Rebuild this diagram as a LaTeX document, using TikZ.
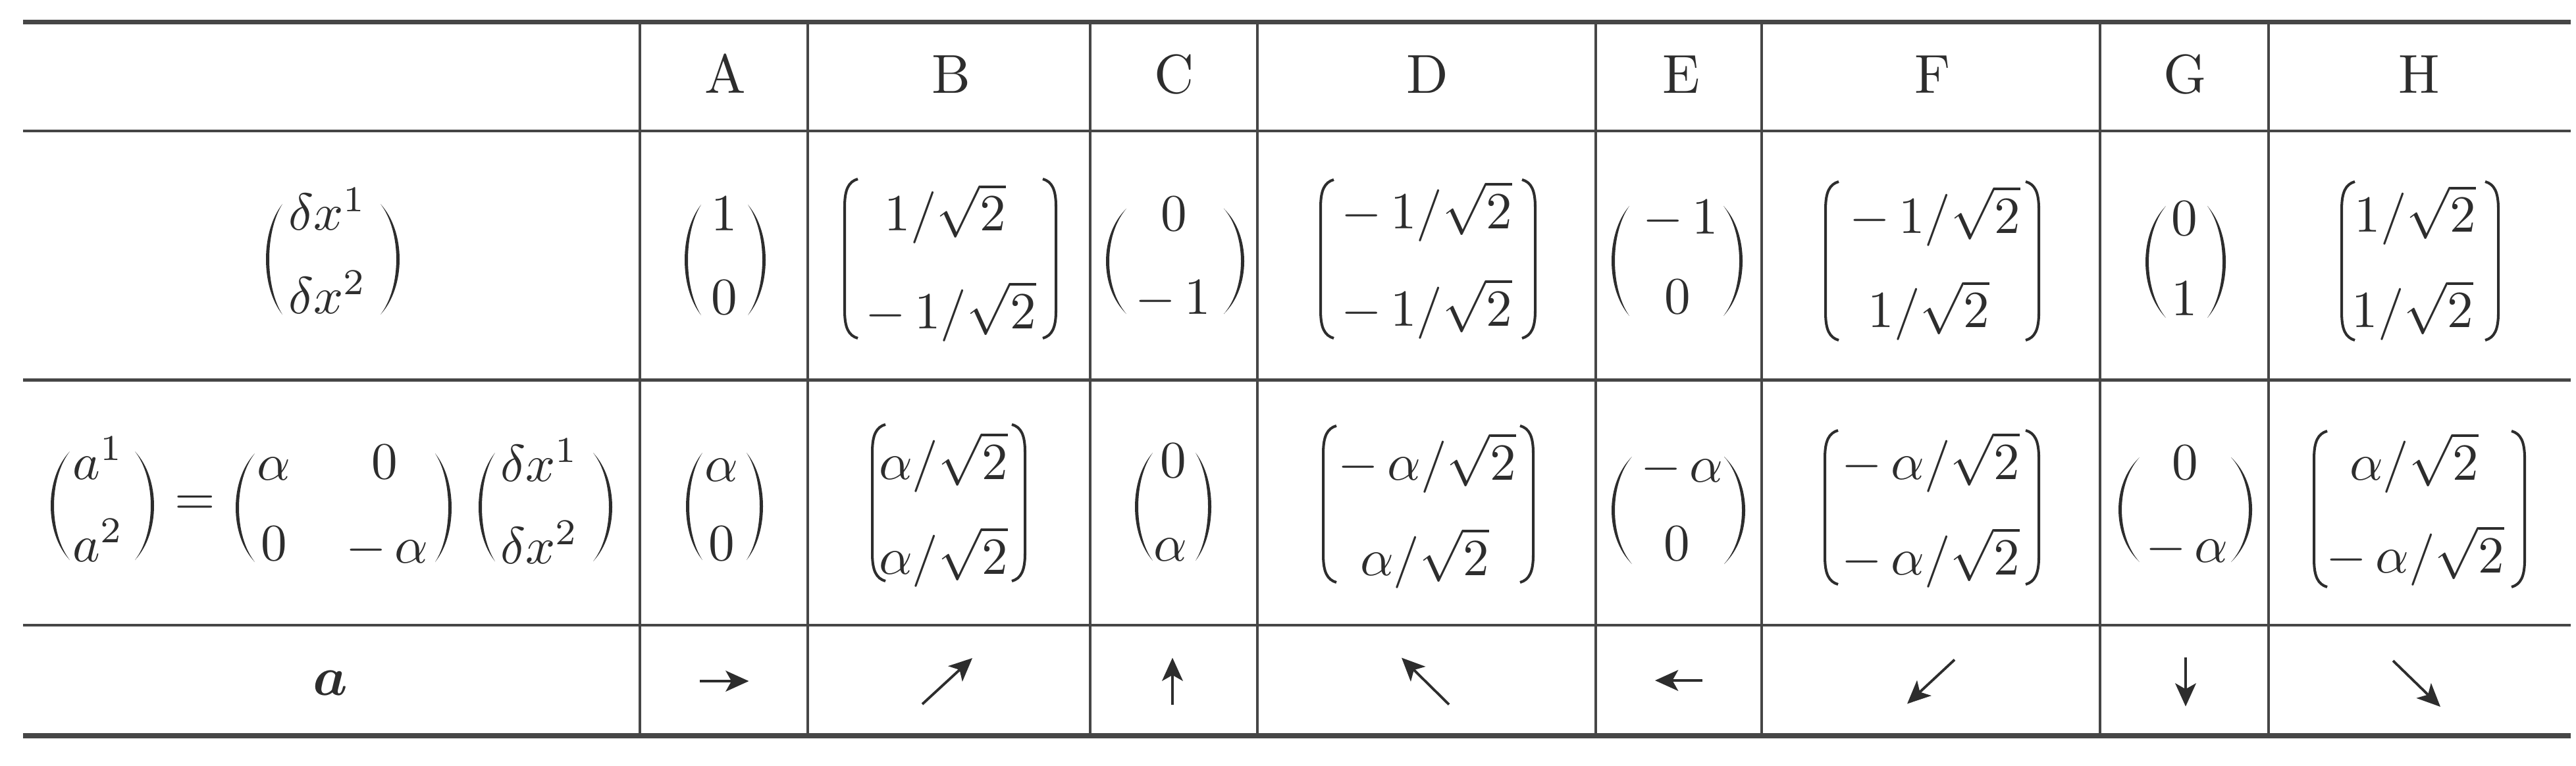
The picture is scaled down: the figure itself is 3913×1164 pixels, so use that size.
\documentclass[tikz,border=0pt]{standalone}
\usepackage{amsmath}
\usetikzlibrary{arrows.meta}
\definecolor{ink}{RGB}{45,45,45}
\definecolor{rulec}{RGB}{70,70,70}
% parenthesis drawn as a lens: #1 outer middle x, #2 end x, #3 top y, #4 bottom y, #5 signed thickness
\newcommand{\dparen}[5]{%
  \fill[ink] (#2,#3) .. controls ({#1+(#1-#2)/3},{#3+0.25*(#4-#3)}) and ({#1+(#1-#2)/3},{#4-0.25*(#4-#3)}) .. (#2,#4)
   .. controls ({#1+#5+(#1+#5-#2)/3},{#4-0.25*(#4-#3)}) and ({#1+#5+(#1+#5-#2)/3},{#3+0.25*(#4-#3)}) .. cycle;}
% group bracket: #1 stroke x, #2 curl end x, #3 top y, #4 bottom y
\newcommand{\dgroup}[4]{%
  \draw[ink, line width=1.15pt] (#2,#3) .. controls ({#1+0.3*(#2-#1)},{#3+4}) and (#1,{#3+16}) .. (#1,{#3+42})
   -- (#1,{#4-42}) .. controls (#1,{#4-16}) and ({#1+0.3*(#2-#1)},{#4-4}) .. (#2,#4);}
\begin{document}
\begin{tikzpicture}[x=0.01cm, y=-0.01cm,
  ent/.style={scale=2.25, inner sep=0pt, text=ink, anchor=base},
  hd/.style={scale=2.37, inner sep=0pt, text=ink, anchor=base},
  thinrule/.style={draw=rulec, line width=1.3pt},
  thickrule/.style={draw=rulec, line width=2.2pt},
  vec/.style={draw=ink, line width=1.1pt, -{Stealth[length=10pt,width=9pt,inset=2.5pt]}}]
\useasboundingbox (0,0) rectangle (3913,1164);
% rules
\draw[thickrule] (35,33.5) -- (3905,33.5);
\draw[thinrule] (35,199) -- (3905,199);
\draw[thinrule] (35,577.5) -- (3905,577.5);
\draw[thinrule] (35,950) -- (3905,950);
\draw[thickrule] (35,1118) -- (3905,1118);
\foreach \vx in {972,1227,1656,1910,2424,2676,3190,3446}
  \draw[thinrule] (\vx,33.5) -- (\vx,1118);
% header
\node[hd] (hA) at (1102,142) {A};
\node[hd] (hB) at (1445,142) {B};
\node[hd] (hC) at (1784,142) {C};
\node[hd] (hD) at (2168,142) {D};
\node[hd] (hE) at (2554,142) {E};
\node[hd] (hF) at (2936,142) {F};
\node[hd] (hG) at (3319,142) {G};
\node[hd] (hH) at (3675,142) {H};
% row 1 label
\dparen{404}{429}{310}{478}{5} \dparen{607}{578}{310}{478}{-5}
\node[ent] (L1t) at (498,350) {$\delta x^1$};
\node[ent] (L1b) at (498,476) {$\delta x^2$};
% row 1 A
\dparen{1040}{1065}{311}{479}{5} \dparen{1163}{1136}{311}{479}{-5}
\node[ent] (A1t) at (1100,351) {$1$};
\node[ent] (A1b) at (1100,477) {$0$};
% B
\dgroup{1283}{1303}{272}{514} \dgroup{1604}{1584}{272}{514}
\node[ent] (B1t) at (1436,351) {$1/\sqrt{2}$};
\node[ent] (B1b) at (1444,499) {$-\,1/\sqrt{2}$};
% C
\dparen{1680}{1711}{317}{477}{5} \dparen{1890}{1859}{317}{477}{-5}
\node[ent] (C1t) at (1783,351) {$0$};
\node[ent] (C1b) at (1782,477) {$-\,1$};
% D
\dgroup{2006}{2026}{273}{514} \dgroup{2332}{2312}{273}{514}
\node[ent] (D1t) at (2167,347) {$-\,1/\sqrt{2}$};
\node[ent] (D1b) at (2167,495) {$-\,1/\sqrt{2}$};
% E
\dparen{2448}{2475}{313}{480}{5} \dparen{2647}{2618}{313}{480}{-5}
\node[ent] (E1t) at (2553,356) {$-\,1$};
\node[ent] (E1b) at (2548,476) {$0$};
% F
\dgroup{2773}{2793}{276}{517} \dgroup{3097}{3077}{276}{517}
\node[ent] (F1t) at (2939,354) {$-\,1/\sqrt{2}$};
\node[ent] (F1b) at (2930,498) {$1/\sqrt{2}$};
% G
\dparen{3259}{3290}{313}{483}{5} \dparen{3381}{3353}{313}{483}{-5}
\node[ent] (G1t) at (3318,357) {$0$};
\node[ent] (G1b) at (3318,479) {$1$};
% H
\dgroup{3557}{3577}{276}{517} \dgroup{3795}{3775}{276}{517}
\node[ent] (H1t) at (3669,353) {$1/\sqrt{2}$};
\node[ent] (H1b) at (3665,498) {$1/\sqrt{2}$};
% row 2 label
\dparen{77}{106}{686}{851}{5} \dparen{234}{205}{686}{851}{-5}
\node[ent] (L2a1) at (149,728) {$a^1$};
\node[ent] (L2a2) at (149,853) {$a^2$};
\node[ent] (L2eq) at (296,782) {$=$};
\dparen{358}{387}{689}{854}{5} \dparen{686}{661}{689}{854}{-5}
\node[ent] (M11) at (416,729) {$\alpha$};
\node[ent] (M12) at (584,727) {$0$};
\node[ent] (M21) at (416,851) {$0$};
\node[ent] (M22) at (588,855) {$-\,\alpha$};
\dparen{727}{752}{688}{853}{5} \dparen{930}{901}{688}{853}{-5}
\node[ent] (L2x1) at (820,731) {$\delta x^1$};
\node[ent] (L2x2) at (820,856) {$\delta x^2$};
% row 2 A
\dparen{1042}{1067}{688}{851}{5} \dparen{1159}{1134}{688}{851}{-5}
\node[ent] (A2t) at (1096,731) {$\alpha$};
\node[ent] (A2b) at (1096,851) {$0$};
% B
\dgroup{1325}{1345}{645}{883} \dgroup{1557}{1537}{645}{883}
\node[ent] (B2t) at (1433,728) {$\alpha/\sqrt{2}$};
\node[ent] (B2b) at (1433,872) {$\alpha/\sqrt{2}$};
% C
\dparen{1724}{1751}{688}{852}{5} \dparen{1840}{1816}{688}{852}{-5}
\node[ent] (C2t) at (1782,725) {$0$};
\node[ent] (C2b) at (1778,852) {$\alpha$};
% D
\dgroup{2010}{2030}{647}{885} \dgroup{2329}{2309}{647}{885}
\node[ent] (D2t) at (2168,729) {$-\,\alpha/\sqrt{2}$};
\node[ent] (D2b) at (2164,874) {$\alpha/\sqrt{2}$};
% E
\dparen{2448}{2479}{694}{857}{5} \dparen{2651}{2619}{694}{857}{-5}
\node[ent] (E2t) at (2555,732) {$-\,\alpha$};
\node[ent] (E2b) at (2547,851) {$0$};
% F
\dgroup{2772}{2792}{654}{888} \dgroup{3097}{3077}{654}{888}
\node[ent] (F2t) at (2933,728) {$-\,\alpha/\sqrt{2}$};
\node[ent] (F2b) at (2933,873) {$-\,\alpha/\sqrt{2}$};
% G
\dparen{3218}{3250}{695}{854}{5} \dparen{3421}{3389}{695}{854}{-5}
\node[ent] (G2t) at (3319,728) {$0$};
\node[ent] (G2b) at (3322,854) {$-\,\alpha$};
% H
\dgroup{3515}{3535}{655}{892} \dgroup{3835}{3815}{655}{892}
\node[ent] (H2t) at (3667,729) {$\alpha/\sqrt{2}$};
\node[ent] (H2b) at (3669,870) {$-\,\alpha/\sqrt{2}$};
% row 3
\node[hd] (bolda) at (502,1056) {$\boldsymbol{a}$};
\coordinate (aAs) at (1062.5,1035); \coordinate (aAe) at (1137.5,1035);
\coordinate (aBs) at (1401,1070);   \coordinate (aBe) at (1477,1000);
\coordinate (aCs) at (1781,1070.5); \coordinate (aCe) at (1781,999.5);
\coordinate (aDs) at (2201,1070.5); \coordinate (aDe) at (2129,999.5);
\coordinate (aEs) at (2586,1034);   \coordinate (aEe) at (2514,1034);
\coordinate (aFs) at (2969,1002.5); \coordinate (aFe) at (2897,1069.5);
\coordinate (aGs) at (3320,998.5);  \coordinate (aGe) at (3320,1073.5);
\coordinate (aHs) at (3635,1004);   \coordinate (aHe) at (3707,1074);
\foreach \k in {A,B,C,D,E,F,G,H}
  \draw[vec] (a\k s) -- (a\k e);
\end{tikzpicture}
\end{document}
